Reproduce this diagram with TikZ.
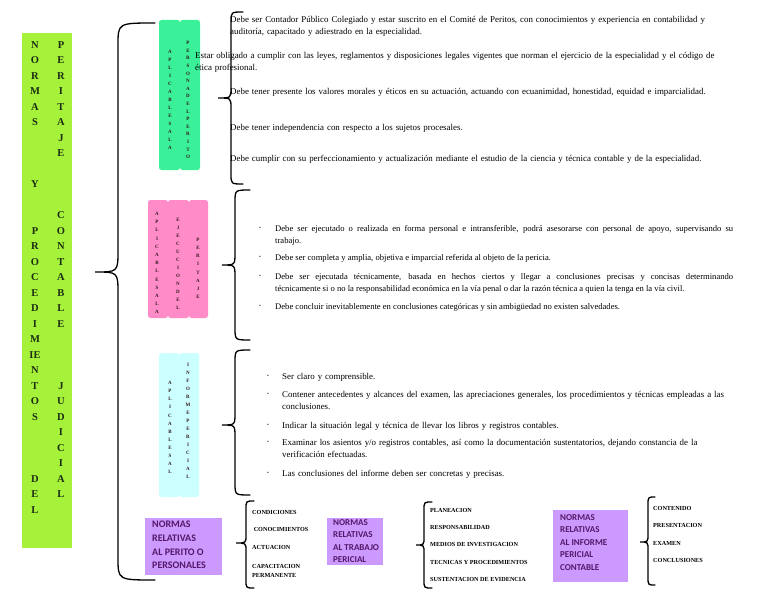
\documentclass[tikz,border=0pt]{standalone}
\usepackage{fontspec}
\setmainfont{Liberation Serif}
\newfontfamily\boxfont{Carlito}
\usetikzlibrary{positioning}
\definecolor{titlegreen}{RGB}{166,242,58}
\definecolor{titletext}{RGB}{28,44,20}
\definecolor{perito}{RGB}{58,240,152}
\definecolor{ejecucion}{RGB}{255,140,200}
\definecolor{informe}{RGB}{204,255,255}
\definecolor{normas}{RGB}{204,153,255}
\definecolor{normastext}{RGB}{84,24,104}
\definecolor{lettertext}{RGB}{50,24,30}

% #1 x of the line, #2 x of the tip, #3 x of the ends, #4 top, #5 tip, #6 bottom, #7 bend
\newcommand{\curly}[7]{%
  \draw[brace] (#3,#4) .. controls (#1,#4) .. (#1,#4+#7) -- (#1,#5-#7)
    .. controls (#1,#5) .. (#2,#5) .. controls (#1,#5) .. (#1,#5+#7)
    -- (#1,#6-#7) .. controls (#1,#6) .. (#3,#6);}

\begin{document}
\begin{tikzpicture}[x=1pt,y=-1pt,
  brace/.style={line width=1.3pt,line cap=round},
  band/.style={rounded corners=2.5pt},
  title/.style={font=\bfseries\fontsize{10.5}{12}\selectfont,text=titletext,inner sep=0pt},
  letter/.style={font=\bfseries\fontsize{5}{6}\selectfont,text=lettertext,inner sep=0pt},
  para/.style={anchor=base west,inner sep=0pt,text width=520pt,align=left,font=\fontsize{8.9}{12}\selectfont},
  just/.style={para,text width=458pt,align=justify,font=\fontsize{8.6}{12}\selectfont},
  item/.style={anchor=base west,inner sep=0pt,font=\bfseries\fontsize{6.2}{7}\selectfont},
  dot/.style={inner sep=0pt,font=\fontsize{5}{6}\selectfont},
  normtext/.style={anchor=north west,inner sep=0pt,align=left,font=\boxfont\bfseries\fontsize{9}{12.5}\selectfont,text=normastext}]
  \fill[white] (0,0) rectangle (768,594);
  \useasboundingbox (0,0) rectangle (768,594);

  % title band
  \fill[titlegreen] (22,33) rectangle (72,548);
  \foreach \l/\k in {N/0,O/1,R/2,M/3,A/4,S/5,Y/9,P/12,R/13,O/14,C/15,E/16,D/17,I/18,M/19,IE/20,N/21,T/22,O/23,S/24,D/28,E/29,L/30}
    \node[title] (tl\k) at (35,45+\k*15.5) {\l};
  \foreach \l/\k in {P/0,E/1,R/2,I/3,T/4,A/5,J/6,E/7,C/11,O/12,N/13,T/14,A/15,B/16,L/17,E/18,J/22,U/23,D/24,I/25,C/26,I/27,A/28,L/29}
    \node[title] (tr\k) at (61,45+\k*15.5) {\l};

  \curly{118}{95}{155}{23}{272}{580}{22}

  % coloured bands
  \fill[perito,band] (159,20) rectangle (180,170);
  \fill[perito,band] (180,20) rectangle (200,170);
  \fill[ejecucion,band] (148,200) rectangle (168,318);
  \fill[ejecucion,band] (168,200) rectangle (189,318);
  \fill[ejecucion,band] (189,200) rectangle (208,318);
  \fill[informe,band] (159,353) rectangle (179,497);
  \fill[informe,band] (179,353) rectangle (199,497);
  \foreach \cx/\cy/\cd/\ls in {170/52/8/{A,P,L,I,C,A,B,L,E,S,A,L,A},188/43/7.6/{P,E,R,S,O,N,A,D,E,L,P,E,R,I,T,O},
      157/214/8.17/{A,P,L,I,C,A,B,L,E,S,A,L,A},178/220/8/{E,J,E,C,U,C,I,O,N,D,E,L},198/240/8.1/{P,E,R,I,T,A,J,E},
      170/383/8.1/{A,P,L,I,C,A,B,L,E,S,A,L},188/365/8/{I,N,F,O,R,M,E,P,E,R,I,C,I,A,L}}
    \foreach \l [count=\i] in \ls
      \node[letter] (v\cx-\cy-\i) at (\cx,\cy+\i*\cd-\cd) {\l};

  % persona del perito
  \curly{231}{218}{243}{12}{98}{184}{10}
  \node[para] (g1) at (230,23) {Debe ser Contador Público Colegiado y estar suscrito en el Comité de Peritos, con conocimientos y experiencia en contabilidad y\\auditoría, capacitado y adiestrado en la especialidad.};
  \node[para] (g2) at (195,59) {Estar obligado a cumplir con las leyes, reglamentos y disposiciones legales vigentes que norman el ejercicio de la especialidad y el código de\\ética profesional.};
  \node[para] (g3) at (230,94) {Debe tener presente los valores morales y éticos en su actuación, actuando con ecuanimidad, honestidad, equidad e imparcialidad.};
  \node[para] (g4) at (230,130) {Debe tener independencia con respecto a los sujetos procesales.};
  \node[para] (g5) at (230,161) {Debe cumplir con su perfeccionamiento y actualización mediante el estudio de la ciencia y técnica contable y de la especialidad.};

  % ejecucion del peritaje
  \curly{235}{222}{250}{190}{265}{340}{12}
  \foreach \y [count=\i] in {228,257,276,306}
    \node[dot] (pb\i) at (260,\y) {\textbullet};
  \node[just] (p1) at (275,231) {Debe ser ejecutado o realizada en forma personal e intransferible, podrá asesorarse con personal de apoyo, supervisando su\linebreak trabajo.};
  \node[just] (p2) at (275,260) {Debe ser completa y amplia, objetiva e imparcial referida al objeto de la pericia.};
  \node[just] (p3) at (275,279) {Debe ser ejecutada técnicamente, basada en hechos ciertos y llegar a conclusiones precisas y concisas determinando\linebreak técnicamente si o no la responsabilidad económica en la vía penal o dar la razón técnica a quien la tenga en la vía civil.};
  \node[just] (p4) at (275,309) {Debe concluir inevitablemente en conclusiones categóricas y sin ambigüedad no existen salvedades.};

  % informe pericial
  \curly{235}{222}{250}{350}{425}{495}{12}
  \foreach \y [count=\i] in {376,394,425,442,473}
    \node[dot] (cb\i) at (268,\y) {\textbullet};
  \node[para] (c1) at (282,379) {Ser claro y comprensible.};
  \node[para] (c2) at (282,397) {Contener antecedentes y alcances del examen, las apreciaciones generales, los procedimientos y técnicas empleadas a las\\conclusiones.};
  \node[para] (c3) at (282,428) {Indicar la situación legal y técnica de llevar los libros y registros contables.};
  \node[para] (c4) at (282,445) {Examinar los asientos y/o registros contables, así como la documentación sustentatorios, dejando constancia de la\\verificación efectuadas.};
  \node[para] (c5) at (282,476) {Las conclusiones del informe deben ser concretas y precisas.};

  % normas relativas
  \fill[normas] (145,518) rectangle (222,575);
  \node[normtext,font=\boxfont\bfseries\fontsize{10}{13.7}\selectfont] (n1) at (152,521) {NORMAS\\RELATIVAS\\AL PERITO O\\PERSONALES};
  \curly{246}{236}{254}{501}{543}{588}{8}
  \foreach \y/\t [count=\i] in {512/CONDICIONES,529/\ CONOCIMIENTOS,547/ACTUACION,566/CAPACITACION,575/PERMANENTE}
    \node[item] (a\i) at (252,\y+2.2) {\t};

  \fill[normas] (327,518) rectangle (383,565);
  \node[normtext] (n2) at (333,519) {NORMAS\\RELATIVAS\\AL TRABAJO\\PERICIAL};
  \curly{424}{416}{432}{502}{545}{588}{8}
  \foreach \y/\t [count=\i] in {510/PLANEACION,527/RESPONSABILIDAD,544/MEDIOS DE INVESTIGACION,562/TECNICAS Y PROCEDIMIENTOS,579/SUSTENTACION DE EVIDENCIA}
    \node[item] (b\i) at (430,\y+2.2) {\t};

  \fill[normas] (553,510) rectangle (628,582);
  \node[normtext] (n3) at (560,514) {NORMAS\\RELATIVAS\\AL INFORME\\PERICIAL\\CONTABLE};
  \curly{648}{640}{655}{497}{542}{585}{8}
  \foreach \y/\t [count=\i] in {508/CONTENIDO,525/PRESENTACION,543/EXAMEN,560/CONCLUSIONES}
    \node[item] (d\i) at (653,\y+2.2) {\t};
\end{tikzpicture}
\end{document}
